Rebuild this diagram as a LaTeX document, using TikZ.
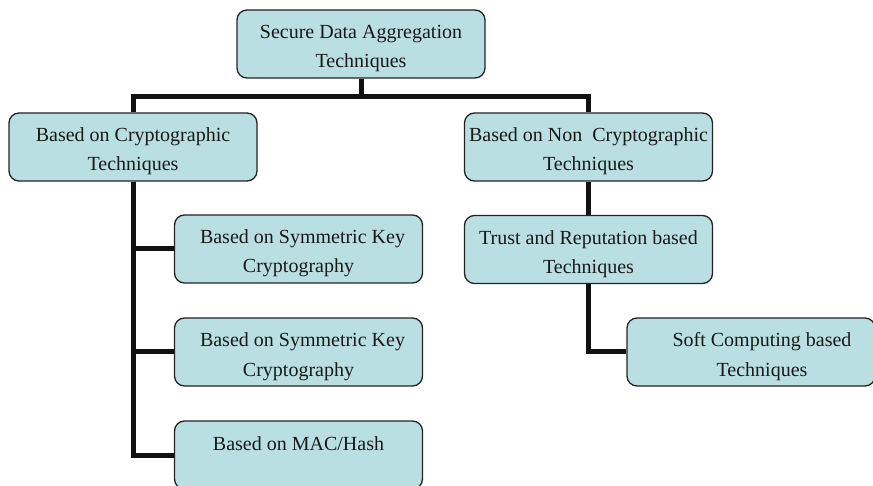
\documentclass[tikz,border=0pt]{standalone}
\usepackage{fontspec}
\setmainfont{Liberation Serif}
\definecolor{boxfill}{RGB}{185,223,226}
\definecolor{boxline}{RGB}{35,35,35}
\definecolor{textcol}{RGB}{25,25,25}
\definecolor{wire}{RGB}{17,17,17}
% struts that fix the two-line text block inside each box
\newcommand{\topstrut}{\rule{0pt}{24pt}}
\newcommand{\botstrut}{\rule[-5pt]{0pt}{5pt}}
\begin{document}
\begin{tikzpicture}[x=1pt,y=-1pt,
  catbox/.style={draw=boxline, line width=1.3pt, fill=boxfill, rounded corners=10pt,
    minimum width=248pt, minimum height=68pt, inner sep=0pt, align=center,
    text=textcol, font=\fontsize{20}{29}\selectfont},
  link/.style={draw=wire, line width=5pt, line join=miter}]
\useasboundingbox (0,0) rectangle (873,486);

% boxes
\node[catbox] (top) at (361,44) {\topstrut Secure Data Aggregation\\Techniques\botstrut};
\node[catbox] (crypto) at (133,147) {\topstrut Based on Cryptographic\\Techniques\botstrut};
\node[catbox] (noncrypto) at (588.5,147) {\topstrut Based on Non\ \ Cryptographic\\Techniques\botstrut};
\node[catbox] (symA) at (298.5,249) {\topstrut\hspace*{8pt}Based on Symmetric Key\\Cryptography\botstrut};
\node[catbox] (symB) at (298.5,352) {\topstrut\hspace*{8pt}Based on Symmetric Key\\Cryptography\botstrut};
\node[catbox] (mac) at (298.5,455) {\topstrut Based on MAC/Hash\\\mbox{}\botstrut};
\node[catbox] (trust) at (588.5,249.5) {\topstrut Trust and Reputation based\\Techniques\botstrut};
\node[catbox] (soft) at (751,352) {\topstrut\hspace*{22pt}Soft Computing based\\\hspace*{22pt}Techniques\botstrut};

% connectors
\draw[link] (top.south) -- ++(0,18) -| (crypto.north);
\draw[link] (top.south) -- ++(0,18) -| (noncrypto.north);
\draw[link] (crypto.south) |- (mac.west);
\draw[link] (crypto.south) |- (symA.west);
\draw[link] (crypto.south) |- (symB.west);
\draw[link] (noncrypto.south) -- (trust.north);
\draw[link] (trust.south) |- (soft.west);
\end{tikzpicture}
\end{document}
